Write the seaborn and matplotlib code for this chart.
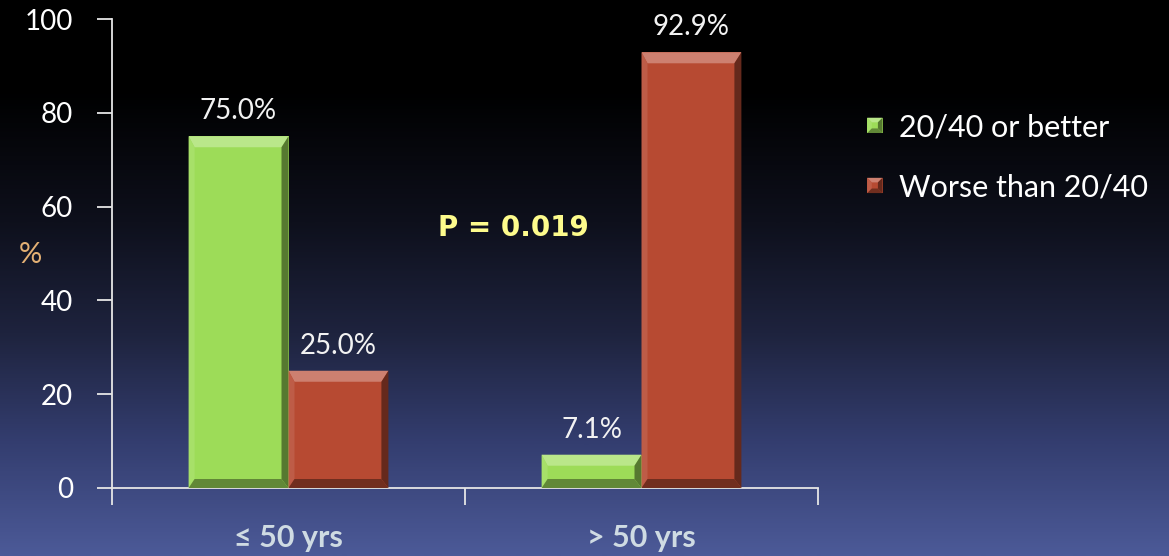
import numpy as np
import pandas as pd
import matplotlib
matplotlib.use("Agg")
import matplotlib.pyplot as plt
from matplotlib.patches import Polygon, Patch
from matplotlib.legend_handler import HandlerBase
from matplotlib.colors import LinearSegmentedColormap
import seaborn as sns

# ---- data ----
age_groups = ["≤ 50 yrs", "> 50 yrs"]
series = ["20/40 or better", "Worse than 20/40"]
better = [75.0, 7.1]
worse = [25.0, 92.9]
y_ticks = [0, 20, 40, 60, 80, 100]
p_text = "P = 0.019"

df = pd.DataFrame({
    "group": age_groups * 2,
    "acuity": [series[0]] * 2 + [series[1]] * 2,
    "pct": better + worse,
})

sns.set_theme(style="white")
plt.rcParams["font.family"] = ["Lato", "DejaVu Sans"]

W, H, DPI = 1169, 556, 100
fig = plt.figure(figsize=(W / DPI, H / DPI), dpi=DPI)

# vertical background gradient: black at top, slate blue at bottom
bg = fig.add_axes([0, 0, 1, 1], zorder=-10)
stops = [(0.0, (0, 0, 0)), (0.16, (0, 0, 0)), (0.40, (14, 16, 28)),
         (0.60, (30, 35, 62)), (0.80, (52, 62, 112)), (1.0, (76, 90, 152))]
cmap = LinearSegmentedColormap.from_list(
    "bg", [(p, tuple(c / 255 for c in rgb)) for p, rgb in stops])
grad = np.linspace(0, 1, 512).reshape(-1, 1)
bg.imshow(grad, aspect="auto", cmap=cmap, extent=[0, 1, 1, 0])
bg.set_axis_off()

ax = fig.add_axes([112 / W, 68 / H, 706 / W, 469 / H])
ax.set_facecolor("none")

green = (157 / 255, 220 / 255, 88 / 255)
red = (183 / 255, 74 / 255, 50 / 255)

sns.barplot(data=df, x="group", y="pct", hue="acuity", order=age_groups,
            hue_order=series, palette=[green, red], width=0.566, gap=0,
            saturation=1, ax=ax, legend=False, linewidth=0)

ax.set_xlim(-0.5, 1.5)
ax.set_ylim(0, 100)
ax.set_yticks(y_ticks)
ax.set_xticks([0, 1])
ax.set_xticklabels(age_groups)
ax.set_xticks([-0.5, 0.5, 1.5], minor=True)

for s in ["top", "right"]:
    ax.spines[s].set_visible(False)
for s in ["left", "bottom"]:
    ax.spines[s].set_color("#e6e6e6")
    ax.spines[s].set_linewidth(1.3)

ax.tick_params(axis="y", which="major", length=11, width=1.3, color="#e6e6e6",
               labelcolor="white", labelsize=20, pad=17, left=True)
ax.tick_params(axis="x", which="major", length=0, pad=26,
               labelcolor="#cfdbe3", labelsize=22)
ax.tick_params(axis="x", which="minor", length=12, width=1.3,
               color="#e6e6e6", bottom=True, direction="out")
for lbl in ax.get_xticklabels():
    lbl.set_fontweight("bold")

ax.set_xlabel("")
ax.set_ylabel("%", rotation=0, color="#e3b074", fontsize=21)
ax.yaxis.set_label_coords(-0.116, 0.47)


def shade(rgb, f):
    if f >= 1:
        return tuple(c + (1 - c) * (f - 1) for c in rgb)
    return tuple(c * f for c in rgb)


def bevel_faces(px0, py0, px1, py1, bl, br, bt, bb):
    """Return the four bevel polygons (top, left, right, bottom) in pixels."""
    tl, tr, bl_, br_ = (px0, py1), (px1, py1), (px0, py0), (px1, py0)
    itl, itr = (px0 + bl, py1 - bt), (px1 - br, py1 - bt)
    ibl, ibr = (px0 + bl, py0 + bb), (px1 - br, py0 + bb)
    return [
        ([tl, tr, itr, itl], 1.30),
        ([tl, itl, ibl, bl_], 1.10),
        ([tr, br_, ibr, itr], 0.55),
        ([bl_, ibl, ibr, br_], 0.62),
    ]


# bevelled edges on each bar, sized in pixels
fig.canvas.draw()
inv = ax.transData.inverted()

for bar in list(ax.patches):
    x0, y0 = bar.get_x(), bar.get_y()
    x1, y1 = x0 + bar.get_width(), y0 + bar.get_height()
    (px0, py0) = ax.transData.transform((x0, y0))
    (px1, py1) = ax.transData.transform((x1, y1))
    h = py1 - py0
    bt = min(11, h / 2.6)
    bb = min(9, h / 3.2)
    base = bar.get_facecolor()[:3]
    for pts, f in bevel_faces(px0, py0, px1, py1, 6, 7, bt, bb):
        ax.add_patch(Polygon([inv.transform(p) for p in pts], closed=True,
                             facecolor=shade(base, f), edgecolor="none",
                             zorder=3))
    ax.text((x0 + x1) / 2, y1 + 2.6, f"{bar.get_height():.1f}%",
            ha="center", va="bottom", color="#f2f2f2", fontsize=20)

ax.text(0.636, 55.4, p_text, ha="center", va="center", color="#fdfb8c",
        fontsize=20, fontweight="bold", family="DejaVu Sans")


class BevelSwatch(HandlerBase):
    def create_artists(self, legend, orig_handle, xdescent, ydescent,
                       width, height, fontsize, trans):
        base = orig_handle.get_facecolor()[:3]
        s = min(width, height)
        x0, y0 = -xdescent, -ydescent + (height - s) / 2
        b = s * 0.3
        arts = [Polygon([(x0, y0), (x0 + s, y0), (x0 + s, y0 + s),
                         (x0, y0 + s)], facecolor=base, edgecolor="none",
                        transform=trans)]
        for pts, f in bevel_faces(x0, y0, x0 + s, y0 + s, b, b, b, b):
            arts.append(Polygon(pts, closed=True, facecolor=shade(base, f),
                                edgecolor="none", transform=trans))
        return arts


handles = [Patch(facecolor=green), Patch(facecolor=red)]
leg = fig.legend(handles, series, loc="upper left",
                 bbox_to_anchor=(855 / W, 1 - 101 / H), frameon=False,
                 fontsize=22, labelcolor="white", handlelength=0.5,
                 handleheight=0.5, handletextpad=0.55, labelspacing=1.05,
                 borderaxespad=0, handler_map={Patch: BevelSwatch()})

fig.savefig("out.png", dpi=DPI)
